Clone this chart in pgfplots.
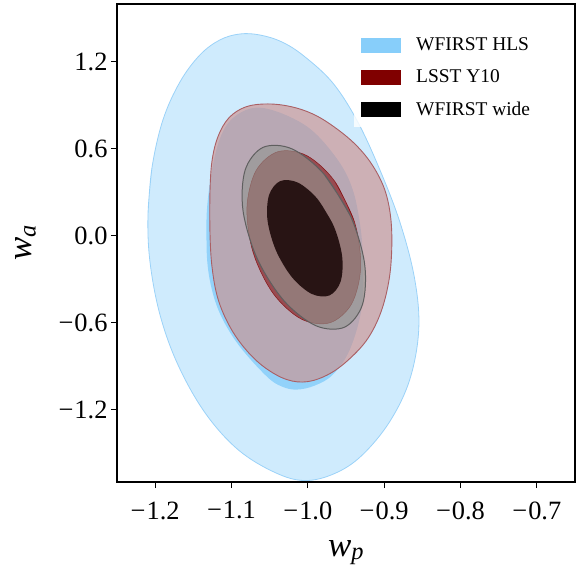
\documentclass[border=0pt]{standalone}
\usepackage{pgfplots}
\pgfplotsset{compat=1.18}
\usepackage{fontspec}
\setmainfont{Liberation Serif}
\definecolor{hlscol}{RGB}{135,206,250}
\definecolor{hlsedge}{RGB}{155,210,248}
\definecolor{lsstcol}{RGB}{205,145,143}
\definecolor{lsstedge}{RGB}{170,95,100}
\definecolor{lsstin}{RGB}{128,0,0}
\definecolor{wwcol}{RGB}{145,150,145}
\definecolor{wwedge}{RGB}{95,95,95}
\definecolor{wwin}{RGB}{40,20,20}
\newcommand{\mn}{−\kern1bp}
\begin{document}
\begin{tikzpicture}
\begin{axis}[
  at={(0,0)}, anchor=south west,
  scale only axis, width=458bp, height=478bp,
  xmin=-1.25, xmax=-0.65, ymin=-1.7, ymax=1.6,
  xtick={-1.2,-1.1,-1.0,-0.9,-0.8,-0.7},
  xticklabels={\mn1.2,\mn1.1,\mn1.0,\mn0.9,\mn0.8,\mn0.7},
  ytick={-1.2,-0.6,0,0.6,1.2},
  yticklabels={\mn1.2,\mn0.6,0.0,0.6,1.2},
  tick align=outside, tick pos=left,
  major tick length=6bp,
  every tick/.style={black, line width=1bp},
  axis line style={line width=1.3bp},
  ticklabel style={font=\fontsize{26.5}{26.5}\selectfont},
  xticklabel style={yshift=-10bp},
  xlabel={\textit{w}\textsubscript{\textit{p}}},
  ylabel={\textit{w}\textsubscript{\textit{a}}},
  every axis x label/.style={at={(axis description cs:0.5,-0.155)}, anchor=base},
  every axis y label/.style={at={(axis description cs:-0.186,0.5)}, rotate=90, anchor=base},
  label style={font=\fontsize{35}{35}\selectfont},
  legend cell align=left,
  legend style={at={(0.5175,0.7427)}, anchor=south west, draw=none, fill=white,
    fill opacity=0.8, text opacity=1, inner xsep=7bp, inner ysep=10bp,
    font=\fontsize{19.5}{19.5}\selectfont, row sep=17bp, column sep=15bp,
    nodes={inner sep=0bp}},
  legend image code/.code={\fill[#1, fill opacity=1] (0bp,-7.5bp) rectangle (40bp,7.5bp);},
]
% WFIRST HLS outer (2 sigma)
\addplot[forget plot, fill=hlscol, fill opacity=0.4, draw=hlsedge, line width=0.8bp, smooth, tension=0.6] coordinates {
(-1.2094,0.145) (-1.2042,0.469) (-1.1898,0.800) (-1.1675,1.062) (-1.1414,1.248) (-1.1152,1.352)
(-1.0890,1.393) (-1.0628,1.386) (-1.0340,1.338) (-1.0052,1.241) (-0.9673,1.055) (-0.9346,0.786)
(-0.9045,0.441) (-0.8783,0.076) (-0.8599,-0.303) (-0.8547,-0.648) (-0.8665,-0.993) (-0.8927,-1.283)
(-0.9293,-1.517) (-0.9647,-1.641) (-1.0039,-1.690) (-1.0432,-1.634) (-1.0916,-1.476) (-1.1348,-1.221)
(-1.1702,-0.890) (-1.1937,-0.545) (-1.2068,-0.179) (-1.2094,0.145) (-1.2042,0.469)};
% WFIRST HLS inner (1 sigma)
\addplot[forget plot, fill=hlscol, fill opacity=0.85, draw=none, smooth, tension=0.6] coordinates {
(-1.1322,-0.145) (-1.1322,0.179) (-1.1230,0.524) (-1.1086,0.745) (-1.0864,0.855) (-1.0602,0.883)
(-1.0236,0.821) (-0.9908,0.710) (-0.9581,0.503) (-0.9411,0.317) (-0.9319,0.090) (-0.9280,-0.145)
(-0.9293,-0.490) (-0.9450,-0.786) (-0.9673,-0.959) (-0.9908,-1.034) (-1.0144,-1.062) (-1.0340,-1.041)
(-1.0537,-0.972) (-1.0890,-0.766) (-1.1126,-0.566) (-1.1257,-0.372) (-1.1322,-0.145) (-1.1322,0.179)};
% LSST Y10 outer
\addplot[forget plot, fill=lsstcol, fill opacity=0.65, draw=lsstedge, line width=0.9bp, smooth, tension=0.6] coordinates {
(-1.1283,0.041) (-1.1283,0.283) (-1.1257,0.510) (-1.1178,0.683) (-1.1034,0.814) (-1.0812,0.890)
(-1.0524,0.910) (-1.0209,0.890) (-0.9908,0.834) (-0.9620,0.738) (-0.9359,0.621) (-0.9149,0.483)
(-0.8992,0.317) (-0.8914,0.124) (-0.8901,-0.097) (-0.8940,-0.317) (-0.9045,-0.531) (-0.9215,-0.710)
(-0.9450,-0.848) (-0.9712,-0.952) (-1.0000,-1.007) (-1.0275,-0.993) (-1.0563,-0.910) (-1.0812,-0.786)
(-1.1021,-0.628) (-1.1178,-0.434) (-1.1257,-0.207) (-1.1283,0.041) (-1.1283,0.283)};
% LSST Y10 inner
\addplot[forget plot, fill=lsstin, fill opacity=0.55, draw=lsstin, draw opacity=0.8, line width=0.5bp, smooth, tension=0.55] coordinates {
(-0.9389,0.0966) (-0.9649,0.3774) (-1.0017,0.5543) (-1.0395,0.5799) (-1.0681,0.4474) (-1.0798,0.1923)
(-1.0716,-0.1172) (-1.0455,-0.3981) (-1.0087,-0.5750) (-0.9710,-0.6006) (-0.9424,-0.4681) (-0.9307,-0.2130)
(-0.9389,0.0966) (-0.9649,0.3774)};
% WFIRST wide outer
\addplot[forget plot, fill=wwcol, fill opacity=0.6, draw=wwedge, line width=1bp, smooth, tension=0.55] coordinates {
(-0.9441,0.1358) (-0.9790,0.4265) (-1.0209,0.6001) (-1.0587,0.6102) (-1.0821,0.4539) (-1.0849,0.1734)
(-1.0664,-0.1565) (-1.0315,-0.4472) (-0.9896,-0.6208) (-0.9518,-0.6309) (-0.9284,-0.4746) (-0.9256,-0.1941)
(-0.9441,0.1358) (-0.9790,0.4265)};
% WFIRST wide inner
\addplot[forget plot, fill=wwin, draw=none, smooth, tension=0.55] coordinates {
(-0.9662,0.0688) (-0.9874,0.2544) (-1.0131,0.3672) (-1.0363,0.3771) (-1.0508,0.2812) (-1.0528,0.1054)
(-1.0416,-0.1032) (-1.0204,-0.2889) (-0.9948,-0.4018) (-0.9715,-0.4116) (-0.9570,-0.3157) (-0.9551,-0.1400)
(-0.9662,0.0688) (-0.9874,0.2544)};
\addlegendimage{fill=hlscol, draw=none}
\addlegendentry{WFIRST HLS}
\addlegendimage{fill=lsstin, draw=none}
\addlegendentry{LSST Y10}
\addlegendimage{fill=black, draw=none}
\addlegendentry{WFIRST wide}
\end{axis}
\pgfresetboundingbox
\path[use as bounding box] (-117bp,-90bp) rectangle (463bp,482bp);
\end{tikzpicture}
\end{document}
